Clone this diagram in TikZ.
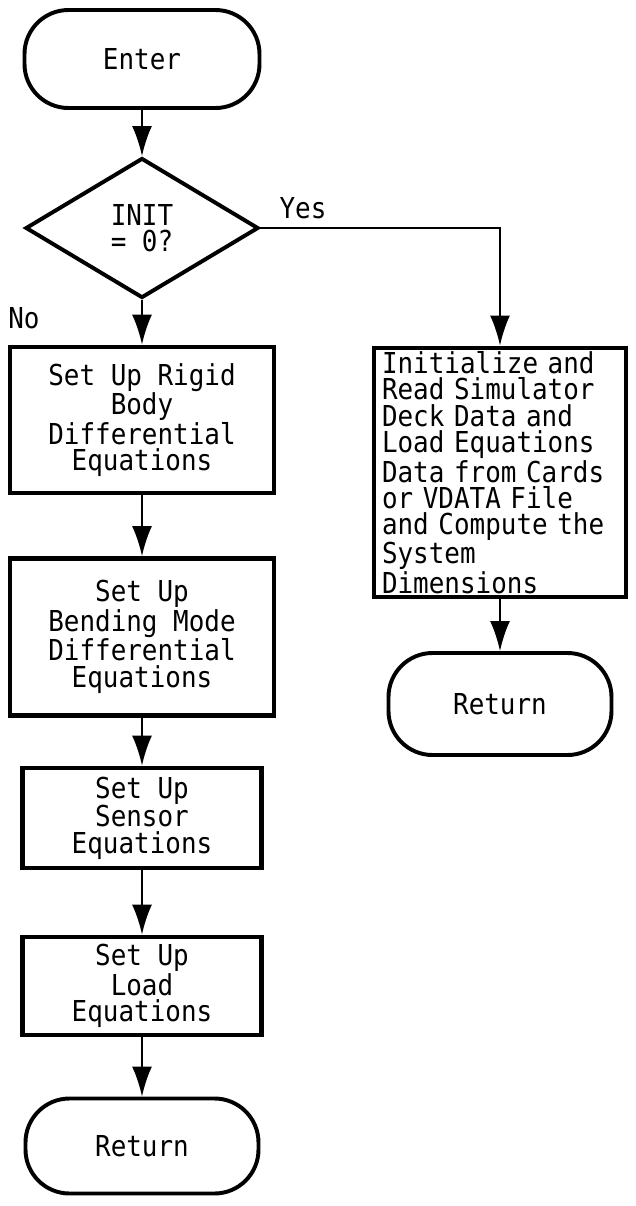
\documentclass[tikz,border=0pt]{standalone}
\usepackage{fontspec}
\setmonofont[FakeStretch=0.9]{DejaVu Sans Mono}
\usepackage{tikz}
\usetikzlibrary{shapes.geometric, arrows.meta, positioning}

\tikzset{
  chart/.style={font=\ttfamily\fontsize{20.5pt}{18.8pt}\selectfont},
  terminal/.style={draw, line width=2.8pt, rounded corners=1.1cm, inner sep=0pt},
  process/.style={draw, line width=3.4pt, align=center, inner sep=0pt},
  decision/.style={draw, diamond, line width=2.8pt, align=center, inner sep=0pt,
    minimum width=5.825cm, minimum height=3.5cm},
  flow/.style={line width=1.4pt, -{Latex[length=7.5mm, width=5mm]}},
}

\begin{document}
\begin{tikzpicture}[chart]
        \useasboundingbox (0,0) rectangle (15.9,-30.15);
        % Draw the main column
        \node[terminal, minimum width=5.875cm, minimum height=2.45cm] (enter) at (3.55,-1.475) {Enter};
        \node[decision] (init) at (3.55,-5.7) {INIT\\= 0?};
        \node[process, minimum width=6.6cm, minimum height=3.65cm] (rigid) at (3.55,-10.5)
            {Set Up Rigid\\Body\\Differential\\Equations};
        \node[process, minimum width=6.6cm, minimum height=3.925cm] (bending) at (3.55,-15.925)
            {Set Up\\Bending Mode\\Differential\\Equations};
        \node[process, minimum width=5.975cm, minimum height=2.5cm] (sensor) at (3.55,-20.45)
            {Set Up\\Sensor\\Equations};
        \node[process, minimum width=5.975cm, minimum height=2.45cm] (load) at (3.55,-24.65)
            {Set Up\\Load\\Equations};
        \node[terminal, minimum width=5.825cm, minimum height=2.375cm] (retleft) at (3.55,-28.65) {Return};
        % Draw the init branch
        \node[process, align=left, text width=5.9cm, inner xsep=0.2cm, minimum height=6.225cm] (readdeck) at (12.5,-11.81)
            {Initialize and\\Read Simulator\\Deck Data and\\Load Equations\\Data from Cards\\or VDATA File\\and Compute the\\System\\Dimensions};
        \node[terminal, minimum width=5.575cm, minimum height=2.55cm] (retright) at (12.5,-17.6) {Return};
        % Branch labels
        \node (yes) at (7.575,-5.2) {Yes};
        \node (no) at (0.6,-7.95) {No};
        % Draw arrows
        \draw[flow] (enter) -- (init);
        \draw[flow] (init) -- (rigid);
        \draw[flow] (rigid) -- (bending);
        \draw[flow] (bending) -- (sensor);
        \draw[flow] (sensor) -- (load);
        \draw[flow] (load) -- (retleft);
        \draw[flow] (init.east) -| (readdeck.north);
        \draw[flow] (readdeck) -- (retright);
\end{tikzpicture}
\end{document}
